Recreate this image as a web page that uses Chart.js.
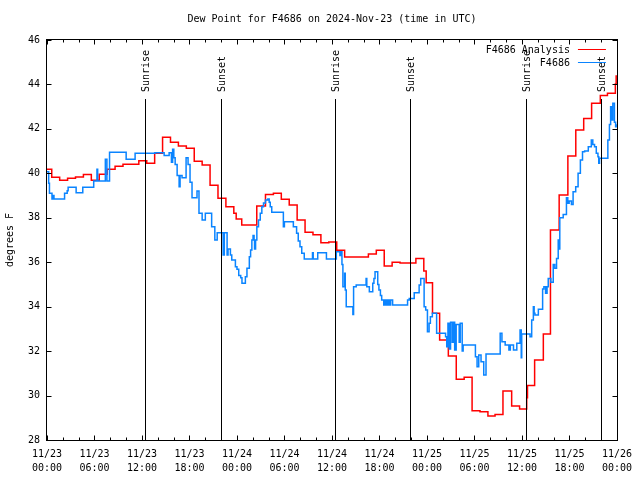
<!DOCTYPE html>
<html>
<head>
<meta charset="utf-8">
<script src="https://cdn.jsdelivr.net/npm/chart.js@4.4.1/dist/chart.umd.min.js"></script>
<style>
  html, body { margin: 0; padding: 0; background: #fff; }
  #wrap { width: 640px; height: 480px; }
</style>
</head>
<body>
<div id="wrap"><canvas id="dewChart" width="640" height="480"></canvas></div>
<script>
const FONT = '"DejaVu Sans Mono", "Liberation Mono", monospace';

const chartTitle = 'Dew Point for F4686 on 2024-Nov-23 (time in UTC)';
const yTitle = 'degrees F';

// hours after 11/23 00:00 UTC at which each value starts (step data)
const analysisHours = [0, 0.6, 1.6, 2.6, 3.6, 4.6, 5.6, 6.6, 7.6, 8.6, 9.6, 11.6, 12.6, 13.6, 14.6, 15.6, 16.6, 17.6,
  18.6, 19.6, 20.6, 21.6, 22.6, 23.6, 23.9, 24.6, 26.5, 27.6, 28.6, 29.6, 30.6, 31.6, 32.6, 33.6, 34.6, 35.6, 36.6,
  37.6, 40.6, 41.6, 42.6, 43.6, 44.6, 46.6, 47.6, 47.9, 48.7, 49.6, 50.7, 51.7, 52.7, 53.7, 54.7, 55.7, 56.6, 57.6,
  58.7, 59.7, 60.6, 60.7, 61.6, 62.7, 63.6, 64.7, 65.8, 66.8, 67.8, 68.8, 69.9, 70.8, 71.8, 71.9, 72];
const analysisValues = [40.18, 39.82, 39.69, 39.78, 39.83, 39.95, 39.69, 39.96, 40.18, 40.32, 40.41, 40.57, 40.45, 40.9,
  41.62, 41.4, 41.23, 41.13, 40.54, 40.38, 39.46, 38.88, 38.5, 38.2, 37.95, 37.67, 38.53, 39.05, 39.1, 38.83, 38.57,
  37.9, 37.35, 37.24, 36.88, 36.91, 36.54, 36.23, 36.37, 36.54, 35.83, 36.0, 35.96, 36.17, 35.6, 35.08, 33.7, 32.5,
  31.78, 30.73, 30.82, 29.32, 29.27, 29.08, 29.15, 30.2, 29.53, 29.39, 29.9, 30.45, 31.6, 32.77, 37.45, 39.02, 40.78,
  41.95, 42.47, 43.15, 43.5, 43.6, 44.02, 44.38, 44.38];

const obsHours = [0, 0.21, 0.31, 0.63, 0.75, 0.88, 2.22, 2.55, 2.67, 3.68, 4.52, 5.9, 6.31, 6.4, 7.37, 7.57, 7.9, 10.0,
  11.13, 13.64, 14.8, 15.43, 15.72, 15.87, 16.02, 16.19, 16.44, 16.69, 16.81, 17.06, 17.57, 17.82, 18.07, 18.32, 18.95,
  19.2, 19.6, 20.0, 20.8, 21.2, 21.5, 22.25, 22.4, 22.75, 22.87, 23.17, 23.34, 23.8, 24.0, 24.22, 24.47, 24.63, 25.06,
  25.26, 25.56, 25.72, 25.88, 26.03, 26.16, 26.22, 26.35, 26.51, 26.72, 26.94, 27.14, 27.35, 27.6, 27.9, 28.07, 28.2,
  28.39, 29.86, 29.99, 31.12, 31.53, 31.74, 31.96, 32.18, 32.5, 33.54, 33.63, 34.2, 35.3, 36.55, 37.0, 37.18, 37.26,
  37.38, 37.6, 37.68, 37.8, 38.64, 38.73, 39.06, 40.31, 40.4, 40.72, 41.15, 41.3, 41.44, 41.78, 41.93, 42.12, 42.28,
  42.54, 42.66, 42.85, 43.04, 43.22, 43.41, 43.66, 45.55, 45.76, 46.39, 47.01, 47.21, 47.64, 47.84, 48.06, 48.27,
  48.43, 48.68, 49.22, 50.35, 50.5, 50.65, 50.81, 50.98, 51.19, 51.35, 51.5, 51.69, 52.07, 52.2, 52.45, 52.57, 54.12,
  54.33, 54.54, 54.83, 55.17, 55.46, 57.25, 57.47, 57.88, 58.35, 58.53, 58.93, 59.35, 59.76, 59.91, 59.97, 61.02,
  61.23, 61.44, 61.54, 61.64, 62.07, 62.61, 62.77, 62.98, 63.17, 63.32, 63.65, 63.95, 64.15, 64.37, 64.58, 64.68,
  64.78, 65.21, 65.62, 65.79, 65.96, 66.25, 66.46, 66.79, 67.09, 67.38, 67.65, 67.92, 68.38, 68.76, 68.95, 69.17,
  69.39, 69.6, 69.7, 69.8, 70.85, 71.05, 71.2, 71.33, 71.48, 71.68, 71.83, 71.9, 72];
const obsValues = [40.07, 39.55, 39.1, 38.84, 39.0, 38.84, 39.1, 39.22, 39.37, 39.13, 39.37, 39.65, 40.18, 39.65, 40.63,
  39.65, 40.95, 40.63, 40.9, 40.93, 40.8, 40.93, 40.5, 41.08, 40.7, 40.4, 39.9, 39.4, 39.9, 39.8, 40.7, 40.4, 39.6,
  38.9, 39.2, 38.2, 37.9, 38.2, 37.6, 37.0, 37.33, 36.32, 37.33, 36.32, 36.6, 36.32, 36.1, 35.8, 35.68, 35.4, 35.3,
  35.05, 35.35, 35.73, 36.25, 36.55, 37.0, 37.2, 37.0, 36.6, 37.0, 37.6, 37.9, 38.2, 38.5, 38.66, 38.8, 38.85, 38.7,
  38.5, 38.25, 37.6, 37.82, 37.6, 37.3, 36.95, 36.7, 36.4, 36.14, 36.43, 36.14, 36.43, 36.14, 36.47, 36.3, 36.47, 35.9,
  34.9, 35.5, 34.75, 34.0, 33.65, 34.9, 34.97, 35.27, 34.9, 34.67, 35.05, 35.27, 35.57, 35.0, 34.75, 34.5, 34.3, 34.07,
  34.3, 34.07, 34.3, 34.07, 34.3, 34.07, 34.3, 34.37, 34.63, 34.97, 35.27, 34.0, 33.85, 32.87, 33.25, 33.55, 33.7,
  32.8, 32.65, 32.2, 33.25, 32.1, 33.3, 32.4, 33.3, 32.05, 33.2, 32.4, 33.25, 32.0, 32.27, 31.75, 31.3, 31.82, 31.52,
  30.92, 31.87, 32.8, 32.42, 32.27, 32.05, 32.27, 32.05, 32.35, 32.95, 31.7, 32.77, 32.65, 33.4, 34.0, 33.7, 33.62,
  33.88, 34.8, 34.9, 34.6, 34.9, 35.27, 35.1, 35.9, 35.73, 36.17, 37.0, 36.6, 38.0, 38.15, 38.9, 38.65, 38.75, 38.6,
  39.17, 39.4, 40.0, 40.6, 40.97, 41.0, 41.2, 41.5, 41.3, 41.2, 40.9, 40.75, 40.45, 40.68, 41.5, 42.2, 43.0, 42.4,
  43.15, 42.3, 42.1, 42.17, 42.17];

const xTickLabels = [['11/23', '00:00'], ['11/23', '06:00'], ['11/23', '12:00'], ['11/23', '18:00'],
  ['11/24', '00:00'], ['11/24', '06:00'], ['11/24', '12:00'], ['11/24', '18:00'],
  ['11/25', '00:00'], ['11/25', '06:00'], ['11/25', '12:00'], ['11/25', '18:00'], ['11/26', '00:00']];

const eventHours = [12.33, 21.92, 36.42, 45.83, 60.51, 69.93];
const eventLabels = ['Sunrise', 'Sunset', 'Sunrise', 'Sunset', 'Sunrise', 'Sunset'];

function toPoints(xs, ys) {
  return xs.map((h, i) => ({ x: h, y: ys[i] }));
}

// frame, inward ticks, sunrise/sunset markers, legend and titles drawn gnuplot style
const gnuplotDecor = {
  id: 'gnuplotDecor',
  afterDatasetsDraw(chart) {
    const { ctx, chartArea: a, scales: { x, y } } = chart;
    ctx.save();
    ctx.strokeStyle = '#000';
    ctx.fillStyle = '#000';
    ctx.lineWidth = 1;
    ctx.font = '10px ' + FONT;

    // sunrise / sunset lines
    eventHours.forEach((h, i) => {
      const px = Math.round(x.getPixelForValue(h)) + 0.5;
      ctx.beginPath();
      ctx.moveTo(px, a.bottom);
      ctx.lineTo(px, a.top + 59);
      ctx.stroke();
      ctx.save();
      ctx.translate(px + 1, a.top + 52);
      ctx.rotate(-Math.PI / 2);
      ctx.textAlign = 'left';
      ctx.textBaseline = 'middle';
      ctx.fillText(eventLabels[i], 0, 0);
      ctx.restore();
    });

    // border
    const L = Math.round(a.left) - 0.5, R = Math.round(a.right) + 0.5;
    const T = Math.round(a.top) - 0.5, B = Math.round(a.bottom) + 0.5;
    ctx.strokeRect(L, T, R - L, B - T);

    // ticks, pointing inward on all four sides
    ctx.beginPath();
    for (let h = 0; h <= 72; h += 2) {
      const px = Math.round(x.getPixelForValue(h)) + 0.5;
      const len = h % 6 === 0 ? 5 : 3;
      ctx.moveTo(px, B); ctx.lineTo(px, B - len);
      ctx.moveTo(px, T); ctx.lineTo(px, T + len);
    }
    y.ticks.forEach(t => {
      const py = Math.round(y.getPixelForValue(t.value)) + 0.5;
      ctx.moveTo(L, py); ctx.lineTo(L + 5, py);
      ctx.moveTo(R, py); ctx.lineTo(R - 5, py);
    });
    ctx.stroke();

    // legend, top right
    const legendOrder = [0, 1];
    legendOrder.forEach((di, row) => {
      const ds = chart.data.datasets[di];
      const ly = a.top + 10 + row * 13;
      ctx.textAlign = 'right';
      ctx.textBaseline = 'middle';
      ctx.fillStyle = '#000';
      ctx.fillText(ds.label, a.right - 47, ly);
      ctx.strokeStyle = ds.borderColor;
      ctx.beginPath();
      ctx.moveTo(a.right - 39, Math.round(ly) - 0.5);
      ctx.lineTo(a.right - 11, Math.round(ly) - 0.5);
      ctx.stroke();
    });
    ctx.restore();
  },
  afterDraw(chart) {
    const { ctx, chartArea: a } = chart;
    ctx.save();
    ctx.fillStyle = '#000';
    ctx.font = '10px ' + FONT;
    ctx.textAlign = 'center';
    ctx.textBaseline = 'middle';
    ctx.fillText(chartTitle, (a.left + a.right) / 2, 19);
    ctx.translate(10, (a.top + a.bottom) / 2);
    ctx.rotate(-Math.PI / 2);
    ctx.fillText(yTitle, 0, 0);
    ctx.restore();
  }
};

const ctx = document.getElementById('dewChart').getContext('2d');
const dewChart = new Chart(ctx, {
  type: 'line',
  data: {
    datasets: [{
      label: 'F4686 Analysis',
      data: toPoints(analysisHours, analysisValues),
      borderColor: '#ff0000',
      borderWidth: 1.5,
      pointRadius: 0,
      stepped: true,
      fill: false,
      order: 1
    }, {
      label: 'F4686',
      data: toPoints(obsHours, obsValues),
      borderColor: '#0a84ff',
      borderWidth: 1.5,
      pointRadius: 0,
      stepped: true,
      fill: false,
      order: 0
    }]
  },
  options: {
    responsive: false,
    animation: false,
    devicePixelRatio: 1,
    layout: { padding: { top: 40, right: 19, left: 0, bottom: 0 } },
    plugins: {
      legend: { display: false },
      title: { display: false },
      tooltip: { enabled: false }
    },
    scales: {
      x: {
        type: 'linear',
        min: 0,
        max: 72,
        grid: { display: false, drawTicks: false },
        border: { display: false },
        ticks: {
          stepSize: 6,
          autoSkip: false,
          maxRotation: 0,
          padding: 8,
          color: '#000',
          font: { family: FONT, size: 10, lineHeight: 1.35 },
          callback: v => xTickLabels[Math.round(v / 6)]
        },
        afterFit(s) { s.height = 40; }
      },
      y: {
        min: 28,
        max: 46,
        grid: { display: false, drawTicks: false },
        border: { display: false },
        ticks: {
          stepSize: 2,
          padding: 7,
          color: '#000',
          font: { family: FONT, size: 10 }
        },
        afterFit(s) { s.width = 47; }
      }
    }
  },
  plugins: [gnuplotDecor]
});
</script>
</body>
</html>
